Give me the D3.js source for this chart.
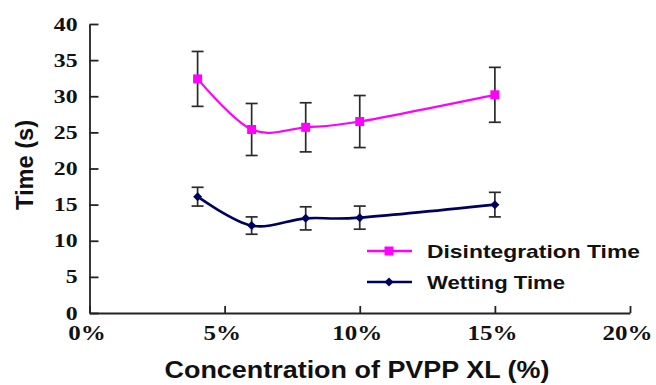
<!DOCTYPE html>
<html><head><meta charset="utf-8">
<script src="https://cdn.jsdelivr.net/npm/d3@7"></script>
<style>body{margin:0;background:#fff}svg{display:block}</style>
</head><body>
<svg id="c" width="656" height="385"></svg>
<script>
const concentrations = [4, 6, 8, 10, 15];
const disintegration = [32.4, 25.4, 25.7, 26.5, 30.2];
const disintegrationErr = [3.8, 3.6, 3.4, 3.6, 3.8];
const wetting = [16.1, 12.1, 13.1, 13.2, 15.0];
const wettingErr = [1.3, 1.2, 1.6, 1.6, 1.7];
const xTicks = [0, 5, 10, 15, 20];
const yTicks = [0, 5, 10, 15, 20, 25, 30, 35, 40];
const seriesNames = ["Disintegration Time", "Wetting Time"];
const xTitle = "Concentration of PVPP XL (%)";
const yTitle = "Time (s)";

const svg = d3.select("#c");
const x = d3.scaleLinear().domain([0, 20]).range([89.5, 630]);
const y = d3.scaleLinear().domain([0, 40]).range([313, 24]);
const SX = 1.25;
const axisColor = "#222";

const gy = svg.append("g").attr("transform", `translate(${x(0)},0)`)
  .call(d3.axisLeft(y).tickValues(yTicks).tickSizeInner(-9).tickSizeOuter(0).tickPadding(12));
gy.selectAll("text").attr("font-family", "'Liberation Serif', 'Times New Roman', serif")
  .attr("font-weight", "bold").attr("font-size", 19).attr("fill", "#111")
  .attr("x", -12 / SX).attr("transform", `scale(${SX},1)`);

const gx = svg.append("g").attr("transform", `translate(0,${y(0)})`)
  .call(d3.axisBottom(x).tickValues(xTicks).tickFormat(d => d + "%").tickSizeInner(-7).tickSizeOuter(0).tickPadding(13));
gx.selectAll("text").attr("font-family", "'Liberation Serif', 'Times New Roman', serif")
  .attr("font-weight", "bold").attr("font-size", 20).attr("fill", "#111")
  .attr("transform", `scale(${SX},1)`).attr("x", -3 / SX);
[gx, gy].forEach(g => {
  g.selectAll("path,line").attr("stroke", axisColor).attr("stroke-width", 1.8);
});

function series(vals, errs, color, width, marker) {
  const pts = concentrations.map((c, i) => ({c, v: vals[i], e: errs[i]}));
  const g = svg.append("g");
  g.append("path").datum(pts)
    .attr("d", d3.line().x(d => x(d.c)).y(d => y(d.v)).curve(d3.curveCatmullRom.alpha(0)))
    .attr("fill", "none").attr("stroke", color).attr("stroke-width", width);
  const eb = g.selectAll(".eb").data(pts).enter().append("g").attr("stroke", "#2a2a2a").attr("stroke-width", 1.7);
  eb.append("line").attr("x1", d => x(d.c)).attr("x2", d => x(d.c)).attr("y1", d => y(d.v - d.e)).attr("y2", d => y(d.v + d.e));
  eb.append("line").attr("x1", d => x(d.c) - 6).attr("x2", d => x(d.c) + 6).attr("y1", d => y(d.v + d.e)).attr("y2", d => y(d.v + d.e));
  eb.append("line").attr("x1", d => x(d.c) - 6).attr("x2", d => x(d.c) + 6).attr("y1", d => y(d.v - d.e)).attr("y2", d => y(d.v - d.e));
  g.selectAll(".m").data(pts).enter().append("path")
    .attr("d", marker).attr("transform", d => `translate(${x(d.c)},${y(d.v)})`).attr("fill", color);
}
const square = "M-4.5,-4.5H4.5V4.5H-4.5Z";
const diamond = "M0,-4.5L4.5,0L0,4.5L-4.5,0Z";
const magenta = "#ff00ff", navy = "#00005e";
series(disintegration, disintegrationErr, magenta, 2.2, square);
series(wetting, wettingErr, navy, 2.6, diamond);

// legend
const legend = [
  {name: seriesNames[0], color: magenta, w: 2.5, marker: square, y: 251, len: 213},
  {name: seriesNames[1], color: navy, w: 2.6, marker: diamond, y: 282, len: 138}
];
const lg = svg.append("g");
legend.forEach(l => {
  lg.append("line").attr("x1", 367).attr("x2", 412).attr("y1", l.y).attr("y2", l.y)
    .attr("stroke", l.color).attr("stroke-width", l.w);
  lg.append("path").attr("d", l.marker).attr("transform", `translate(389,${l.y})`).attr("fill", l.color);
  lg.append("text").attr("x", 427).attr("y", l.y + 6.5).text(l.name)
    .attr("font-family", "'Liberation Sans', Arial, sans-serif").attr("font-size", 19)
    .attr("font-weight", "bold").attr("fill", "#111")
    .attr("textLength", l.len).attr("lengthAdjust", "spacingAndGlyphs");
});

svg.append("text").attr("x", 357).attr("y", 378).attr("text-anchor", "middle").text(xTitle)
  .attr("font-family", "'Liberation Sans', Arial, sans-serif").attr("font-size", 24)
  .attr("font-weight", "bold").attr("fill", "#111")
  .attr("textLength", 385).attr("lengthAdjust", "spacingAndGlyphs");

svg.append("text").attr("transform", "translate(33,165) rotate(-90)").attr("text-anchor", "middle").text(yTitle)
  .attr("font-family", "'Liberation Sans', Arial, sans-serif").attr("font-size", 23)
  .attr("font-weight", "bold").attr("fill", "#111")
  .attr("textLength", 90).attr("lengthAdjust", "spacingAndGlyphs");
</script>
</body></html>
